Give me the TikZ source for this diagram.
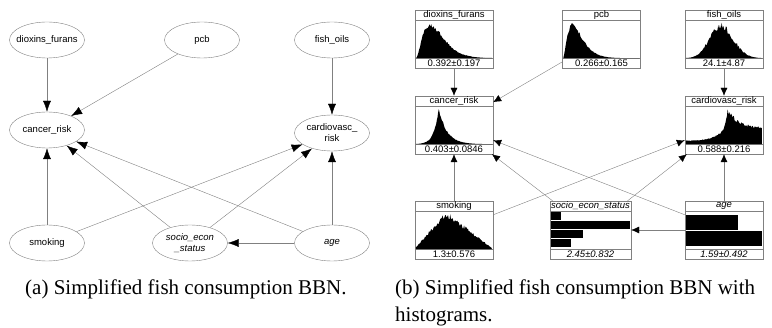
\documentclass[tikz,border=0pt]{standalone}
\usepackage{fontspec}
\setmainfont{Liberation Serif}
\setsansfont{Liberation Sans}
\usetikzlibrary{shapes.geometric, arrows.meta}

\begin{document}
\begin{tikzpicture}[x=1pt, y=-1pt]

\tikzset{vertex/.style = {shape=ellipse, draw=gray, minimum width=75pt, minimum height=36pt, inner sep=0pt, inner xsep=-8pt, font=\sffamily\fontsize{9.5}{11}\selectfont, align=center}}
\tikzset{edge/.style = {draw=gray, -{Latex[length=11pt, width=8pt, black]}}}
\tikzset{histbox/.style = {shape=rectangle, draw=gray, minimum width=78pt, minimum height=58pt, inner sep=0pt}}
\tikzset{boxtext/.style = {inner sep=0pt, font=\sffamily\fontsize{9.5}{11}\selectfont}}
\tikzset{boxline/.style = {draw=gray}}
\tikzset{bedge/.style = {draw=gray, -{Latex[length=8pt, width=7pt, black]}}}
\tikzset{caption/.style = {inner sep=0pt, anchor=north west, align=left, font=\fontsize{21}{27}\selectfont}}

\useasboundingbox (0,0) rectangle (772,328);
\pgfmathsetseed{11}

%(a) verticies
\node[vertex] (df) at (47,40) {dioxins\_furans};
\node[vertex] (pcb) at (202,40) {pcb};
\node[vertex] (fo) at (332,40) {fish\_oils};
\node[vertex] (cr) at (47,130) {cancer\_risk};
\node[vertex] (cv) at (332,133) {cardiovasc\_\\risk};
\node[vertex] (sm) at (47,243) {smoking};
\node[vertex] (ses) at (190,243) {\itshape socio\_econ\\\itshape \_status};
\node[vertex] (age) at (332,243) {\itshape age};
%(a) edges
\draw [edge] (df) -- (cr);
\draw [edge] (pcb) -- (cr);
\draw [edge] (fo) -- (cv);
\draw [edge] (sm) -- (cr);
\draw [edge] (sm) -- (cv);
\draw [edge] (ses) -- (cr);
\draw [edge] (ses) -- (cv);
\draw [edge] (age) -- (cr);
\draw [edge] (age) -- (cv);
\draw [edge] (age) -- (ses);

%(b) boxes
\node[histbox] (hdf) at (454,39) {};
\node[histbox] (hpcb) at (601.5,39) {};
\node[histbox] (hfo) at (724,39) {};
\node[histbox] (hcr) at (454,125) {};
\node[histbox] (hcv) at (724,125) {};
\node[histbox] (hsm) at (454,230) {};
\node[histbox, minimum width=81pt] (hses) at (590.5,230) {};
\node[histbox] (hage) at (724,230) {};
%(b) title and value bars
\foreach \b in {hdf, hpcb, hfo, hcr, hcv, hsm, hses, hage} {
  \draw [boxline] ([yshift=-10pt]\b.north west) -- ([yshift=-10pt]\b.north east);
  \draw [boxline] ([yshift=10pt]\b.south west) -- ([yshift=10pt]\b.south east);
}
\node[boxtext] (hdft) at ([yshift=-5pt]hdf.north) {dioxins\_furans};
\node[boxtext] (hdfv) at ([yshift=5pt]hdf.south) {0.392±0.197};
\node[boxtext] (hpcbt) at ([yshift=-5pt]hpcb.north) {pcb};
\node[boxtext] (hpcbv) at ([yshift=5pt]hpcb.south) {0.266±0.165};
\node[boxtext] (hfot) at ([yshift=-5pt]hfo.north) {fish\_oils};
\node[boxtext] (hfov) at ([yshift=5pt]hfo.south) {24.1±4.87};
\node[boxtext] (hcrt) at ([yshift=-5pt]hcr.north) {cancer\_risk};
\node[boxtext] (hcrv) at ([yshift=5pt]hcr.south) {0.403±0.0846};
\node[boxtext] (hcvt) at ([yshift=-5pt]hcv.north) {cardiovasc\_risk};
\node[boxtext] (hcvv) at ([yshift=5pt]hcv.south) {0.588±0.216};
\node[boxtext] (hsmt) at ([yshift=-5pt]hsm.north) {smoking};
\node[boxtext] (hsmv) at ([yshift=5pt]hsm.south) {1.3±0.576};
\node[boxtext] (hsest) at ([yshift=-5pt]hses.north) {\itshape socio\_econ\_status};
\node[boxtext] (hsesv) at ([yshift=5pt]hses.south) {\itshape 2.45±0.832};
\node[boxtext] (haget) at ([yshift=-5pt]hage.north) {\itshape age};
\node[boxtext] (hagev) at ([yshift=5pt]hage.south) {\itshape 1.59±0.492};

%(b) histograms
\begin{scope}[shift={([xshift=1pt, yshift=10pt]hdf.south west)}, x=76pt, y=37pt]
  \fill (0,0) -- plot[domain=0:1, samples=90] (\x, {min(1, 0.92*(\x/0.19)^2*exp(2*(1-\x/0.19))*(0.9+0.18*rnd))}) -- (1,0) -- cycle;
\end{scope}
\begin{scope}[shift={([xshift=1pt, yshift=10pt]hpcb.south west)}, x=76pt, y=37pt]
  \fill (0,0) -- plot[domain=0:1, samples=90] (\x, {min(1, 0.9*(\x/0.12)*sqrt(\x/0.12)*exp(1.5*(1-\x/0.12))*(0.92+0.14*rnd))}) -- (1,0) -- cycle;
\end{scope}
\begin{scope}[shift={([xshift=1pt, yshift=10pt]hfo.south west)}, x=76pt, y=37pt]
  \fill (0,0) -- plot[domain=0:1, samples=90] (\x, {min(1, 0.88*exp(-0.5*((\x-0.45)/ifthenelse(\x<0.45,0.14,0.17))^2)*(0.88+0.22*rnd))}) -- (1,0) -- cycle;
\end{scope}
\begin{scope}[shift={([xshift=1pt, yshift=10pt]hcr.south west)}, x=76pt, y=37pt]
  \fill (0,0) -- plot[domain=0:1, samples=120] (\x, {min(1, 0.97*exp(-abs(\x-0.3)/ifthenelse(\x<0.3,0.06,0.11))*(0.92+0.14*rnd))}) -- (1,0) -- cycle;
\end{scope}
\begin{scope}[shift={([xshift=1pt, yshift=10pt]hcv.south west)}, x=76pt, y=37pt]
  \fill (0,0) -- plot[domain=0:1, samples=110] (\x, {min(1, ifthenelse(\x<0.55, 0.1+0.33*(\x/0.55)^3+0.55*exp(-abs(0.55-\x)/0.03), 0.45+0.52*exp(-abs(\x-0.55)/0.12))*(0.9+0.16*rnd))}) -- (1,0) -- cycle;
\end{scope}
\begin{scope}[shift={([xshift=1pt, yshift=10pt]hsm.south west)}, x=76pt, y=37pt]
  \fill (0,0) -- plot[domain=0:1, samples=100] (\x, {min(1, ifthenelse(\x<0.4, 0.05+0.92*\x/0.4, 0.03+0.94*(1-\x)/0.6)*(0.88+0.2*rnd))}) -- (1,0) -- cycle;
\end{scope}
\begin{scope}[shift={([xshift=1pt, yshift=10pt]hses.south west)}, x=79pt, y=1pt]
  \fill (0,37) rectangle (0.13,29);
  \fill (0,28) rectangle (1,20);
  \fill (0,19) rectangle (0.41,11);
  \fill (0,10) rectangle (0.26,2);
\end{scope}
\begin{scope}[shift={([xshift=1pt, yshift=10pt]hage.south west)}, x=76pt, y=1pt]
  \fill (0,34) rectangle (0.69,19.5);
  \fill (0,18) rectangle (1,3);
\end{scope}

%(b) edges
\draw [bedge] (hdf) -- (hcr);
\draw [bedge] (hpcb) -- (hcr);
\draw [bedge] (hfo) -- (hcv);
\draw [bedge] (hsm) -- (hcr);
\draw [bedge] (hsm) -- (hcv);
\draw [bedge] (hses) -- (hcr);
\draw [bedge] (hses) -- (hcv);
\draw [bedge] (hage) -- (hcr);
\draw [bedge] (hage) -- (hcv);
\draw [bedge] (hage) -- (hses);

%captions
\node[caption] (capa) at (25,280) {(a) Simplified fish consumption BBN.};
\node[caption] (capb) at (395,280) {(b) Simplified fish consumption BBN with\\histograms.};

\end{tikzpicture}
\end{document}
